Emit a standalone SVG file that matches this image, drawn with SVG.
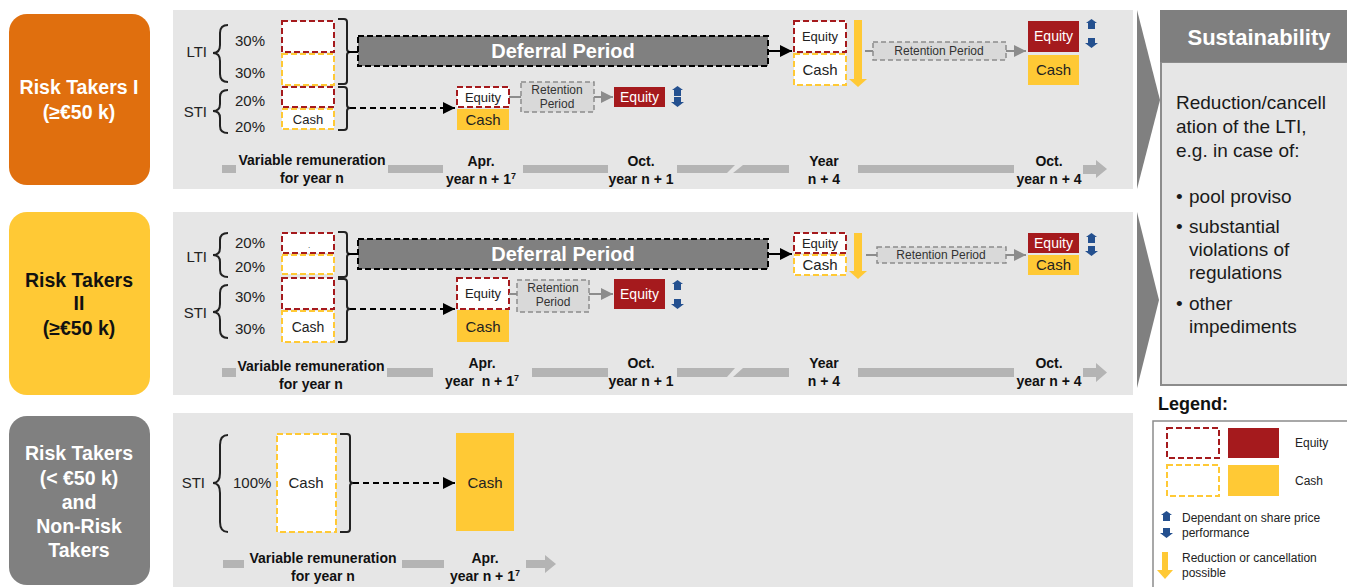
<svg xmlns="http://www.w3.org/2000/svg" xmlns:xlink="http://www.w3.org/1999/xlink" width="1347" height="587" viewBox="0 0 1347 587">
<style>
text{font-family:"Liberation Sans",Arial,sans-serif}
.panel{fill:#E6E6E6}
.dr{fill:#fff;stroke:#A51A1D;stroke-width:2;stroke-dasharray:6 3}
.dy{fill:#fff;stroke:#FFC935;stroke-width:2;stroke-dasharray:6 3}
.eq{fill:#A51A1D}
.ca{fill:#FFC935}
.ret{fill:#D9D9D9;stroke:#8C8C8C;stroke-width:1.5;stroke-dasharray:5 3}
.def{fill:#808080;stroke:#000;stroke-width:2;stroke-dasharray:6 3}
.br{fill:none;stroke:#222;stroke-width:2}
.tl{fill:#B4B4B4}
.blue{fill:#24508F}
.yel{fill:#FFC935}
.dash{stroke:#000;stroke-width:2;stroke-dasharray:6 4;fill:none}
.solidk{stroke:#000;stroke-width:2;fill:none}
.garr{stroke:#8C8C8C;stroke-width:2;fill:none}
.lbl{font-size:15px;fill:#222}
.tlt{font-size:14px;font-weight:bold;fill:#111;text-anchor:middle}
.sm{font-size:13px;fill:#222;text-anchor:middle}
.sm.c{font-size:15px}
.sm.w{fill:#fff;font-size:14px}
.rt{font-size:12px;fill:#333;text-anchor:middle}
.wt{fill:#fff}
.big{font-size:19.5px;font-weight:bold;text-anchor:middle}
.sus{font-size:19px;fill:#1a1a1a}
.leg{font-size:12px;fill:#222}
</style>
<defs>
<marker id="hk" viewBox="0 0 10 10" refX="10" refY="5" markerWidth="12" markerHeight="12" markerUnits="userSpaceOnUse" orient="auto"><path d="M0,0 L10,5 L0,10 Z" fill="#000"/></marker>
<marker id="hg" viewBox="0 0 10 10" refX="10" refY="5" markerWidth="12" markerHeight="12" markerUnits="userSpaceOnUse" orient="auto"><path d="M0,0 L10,5 L0,10 Z" fill="#8C8C8C"/></marker>
<path id="bup" class="blue" d="M6.5,0 L12,4 L10,4 L10,10 L3,10 L3,4 L1,4 Z"/>
<path id="bdn" class="blue" d="M3,0 H10 V5 H13 L6.5,10 L0,5 H3 Z"/>
</defs>

<!-- category boxes -->
<g id="rt1"><rect x="9" y="14" width="141" height="171" rx="18" fill="#E06F0E"/>
<text class="big wt" x="79" y="94">Risk Takers I</text><text class="big wt" x="79" y="119">(≥€50 k)</text></g>
<g id="rt2"><rect x="9" y="212" width="141" height="183" rx="18" fill="#FFC935"/>
<text class="big" fill="#111" x="79" y="287">Risk Takers</text><text class="big" fill="#111" x="79" y="310">II</text><text class="big" fill="#111" x="79" y="335">(≥€50 k)</text></g>
<g id="rt3"><rect x="9" y="416" width="141" height="169" rx="18" fill="#808080"/>
<text class="big wt" x="79" y="460">Risk Takers</text><text class="big wt" x="79" y="485">(&lt; €50 k)</text><text class="big wt" x="79" y="509">and</text><text class="big wt" x="79" y="533">Non-Risk</text><text class="big wt" x="79" y="557">Takers</text></g>

<!-- chevrons -->
<g id="chevrons"><polygon points="1137,10 1160,100 1137,189" fill="#808080"/><polygon points="1137,212 1159,300 1137,388" fill="#808080"/></g>

<!-- panels -->
<rect class="panel" x="173" y="10" width="960" height="179"/>
<rect class="panel" x="173" y="212" width="960" height="183"/>
<rect class="panel" x="173" y="413" width="960" height="174"/>

<!-- Row 1 -->
<g id="row1">
<text class="lbl" x="207" y="57" text-anchor="end">LTI</text>
<text class="lbl" x="207" y="117" text-anchor="end">STI</text>
<path class="br" d="M228,25 Q220,25 220,33 V45 Q220,53 213,53 Q220,53 220,61 V74 Q220,82 228,82"/>
<path class="br" d="M228,90 Q220,90 220,97 V104 Q220,111 213,111 Q220,111 220,118 V126 Q220,133 228,133"/>
<text class="lbl" x="235" y="46">30%</text><text class="lbl" x="235" y="78">30%</text>
<text class="lbl" x="235" y="106">20%</text><text class="lbl" x="235" y="132">20%</text>
<rect class="dr" x="282" y="21" width="52" height="31"/>
<rect class="dy" x="282" y="54" width="52" height="31"/>
<rect class="dr" x="282" y="87" width="52" height="20"/>
<rect class="dy" x="282" y="109" width="52" height="20"/>
<text class="sm" x="308" y="124">Cash</text>
<path class="br" d="M338,19 H344 Q347,19 347,22 V49 Q347,52 350,52 Q347,52 347,55 V81 Q347,84 344,84 H338"/>
<path class="br" d="M338,87 H344 Q347,87 347,90 V105 Q347,108 350,108 Q347,108 347,111 V127 Q347,130 344,130 H338"/>
<rect class="def" x="358" y="36" width="410" height="30"/>
<text x="563" y="58" font-size="20" font-weight="bold" fill="#fff" text-anchor="middle">Deferral Period</text>
<rect class="dr" x="457" y="87" width="52" height="20"/>
<text class="sm" x="483" y="102">Equity</text>
<rect class="ca" x="457" y="109" width="52" height="21"/>
<text class="sm c" x="483" y="125">Cash</text>
<rect class="ret" x="521" y="82" width="73" height="30"/>
<text class="rt" x="557" y="94">Retention</text><text class="rt" x="557" y="108">Period</text>
<rect class="eq" x="614" y="87" width="51" height="20"/>
<text class="sm w" x="639.5" y="102">Equity</text>
<use href="#bup" x="671" y="86"/><use href="#bdn" x="671" y="97"/>
<rect class="dr" x="794" y="21" width="52" height="31"/>
<text class="sm" x="820" y="41">Equity</text>
<rect class="dy" x="794" y="54" width="52" height="31"/>
<text class="sm c" x="820" y="75">Cash</text>
<rect class="yel" x="854" y="20" width="8" height="60"/><polygon class="yel" points="849,79 867,79 858,87"/>
<rect class="ret" x="873" y="42" width="133" height="18"/>
<text class="rt" x="939" y="55">Retention Period</text>
<rect class="eq" x="1028" y="21" width="51" height="31"/>
<text class="sm w" x="1053.5" y="41">Equity</text>
<rect class="ca" x="1028" y="55" width="51" height="30"/>
<text class="sm c" x="1053.5" y="75">Cash</text>
<use href="#bup" x="1085" y="19"/><use href="#bdn" x="1085" y="38"/>
<rect class="tl" x="222" y="165" width="14" height="8"/>
<rect class="tl" x="388" y="165" width="55" height="8"/>
<rect class="tl" x="523" y="165" width="85" height="8"/>
<polygon class="tl" points="677,165 735,165 727,173 677,173"/>
<polygon class="tl" points="743,165 789,165 789,173 733,173"/>
<rect class="tl" x="858" y="165" width="156" height="8"/>
<polygon class="tl" points="1083,165 1096,165 1096,160 1107,169 1096,178 1096,174 1083,174"/>
<text class="tlt" x="312" y="165">Variable remuneration</text><text class="tlt" x="312" y="183">for year n</text>
<text class="tlt" x="481" y="166">Apr.</text><text class="tlt" x="481" y="184">year n + 1<tspan font-size="9" dy="-5">7</tspan></text>
<text class="tlt" x="641" y="166">Oct.</text><text class="tlt" x="641" y="184">year n + 1</text>
<text class="tlt" x="824" y="166">Year</text><text class="tlt" x="824" y="184">n + 4</text>
<text class="tlt" x="1049" y="166">Oct.</text><text class="tlt" x="1049" y="184">year n + 4</text>
</g>

<!-- Row 2 -->
<g id="row2">
<text class="lbl" x="207" y="262" text-anchor="end">LTI</text>
<text class="lbl" x="207" y="318" text-anchor="end">STI</text>
<path class="br" d="M228,233 Q220,233 220,240 V248 Q220,255 213,255 Q220,255 220,262 V270 Q220,277 228,277"/>
<path class="br" d="M228,285 Q220,285 220,293 V304 Q220,312 213,312 Q220,312 220,320 V330 Q220,338 228,338"/>
<text class="lbl" x="235" y="248">20%</text><text class="lbl" x="235" y="272">20%</text>
<text class="lbl" x="235" y="302">30%</text><text class="lbl" x="235" y="334">30%</text>
<rect class="dr" x="282" y="233" width="52" height="20"/>
<text x="309" y="248" font-size="8" fill="#222" text-anchor="middle">.</text>
<rect class="dy" x="282" y="255" width="52" height="19"/>
<rect class="dr" x="282" y="278" width="52" height="31"/>
<rect class="dy" x="282" y="311" width="52" height="31"/>
<text class="sm" x="308" y="332" style="font-size:14px">Cash</text>
<path class="br" d="M338,232 H344 Q347,232 347,235 V251 Q347,254 350,254 Q347,254 347,257 V274 Q347,277 344,277 H338"/>
<path class="br" d="M338,279 H344 Q347,279 347,282 V306 Q347,309 350,309 Q347,309 347,312 V339 Q347,342 344,342 H338"/>
<rect class="def" x="358" y="239" width="410" height="30"/>
<text x="563" y="261" font-size="20" font-weight="bold" fill="#fff" text-anchor="middle">Deferral Period</text>
<rect class="dr" x="457" y="278" width="52" height="31"/>
<text class="sm" x="483" y="298">Equity</text>
<rect class="ca" x="457" y="310" width="52" height="32"/>
<text class="sm c" x="483" y="332">Cash</text>
<rect class="ret" x="517" y="280" width="72" height="32"/>
<text class="rt" x="553" y="292">Retention</text><text class="rt" x="553" y="306">Period</text>
<rect class="eq" x="614" y="279" width="51" height="30"/>
<text class="sm w" x="639.5" y="299">Equity</text>
<use href="#bup" x="671" y="280"/><use href="#bdn" x="671" y="299"/>
<rect class="dr" x="794" y="233" width="52" height="20"/>
<text class="sm" x="820" y="248">Equity</text>
<rect class="dy" x="794" y="255" width="52" height="20"/>
<text class="sm c" x="820" y="270">Cash</text>
<rect class="yel" x="854" y="233" width="8" height="39"/><polygon class="yel" points="849,271 867,271 858,279"/>
<rect class="ret" x="877" y="247" width="129" height="16"/>
<text class="rt" x="941" y="259">Retention Period</text>
<rect class="eq" x="1028" y="233" width="51" height="20"/>
<text class="sm w" x="1053.5" y="248">Equity</text>
<rect class="ca" x="1028" y="255" width="51" height="20"/>
<text class="sm c" x="1053.5" y="270">Cash</text>
<use href="#bup" x="1085" y="233"/><use href="#bdn" x="1085" y="246"/>
<rect class="tl" x="222" y="368" width="14" height="9"/>
<rect class="tl" x="387" y="368" width="46" height="9"/>
<rect class="tl" x="532" y="368" width="76" height="9"/>
<polygon class="tl" points="677,368 735,368 727,377 677,377"/>
<polygon class="tl" points="743,368 789,368 789,377 733,377"/>
<rect class="tl" x="858" y="368" width="156" height="9"/>
<polygon class="tl" points="1083,368 1096,368 1096,363 1107,372.5 1096,382 1096,377 1083,377"/>
<text class="tlt" x="311" y="371">Variable remuneration</text><text class="tlt" x="311" y="389">for year n</text>
<text class="tlt" x="482" y="368">Apr.</text><text class="tlt" x="482" y="386" xml:space="preserve">year  n + 1<tspan font-size="9" dy="-5">7</tspan></text>
<text class="tlt" x="641" y="368">Oct.</text><text class="tlt" x="641" y="386">year n + 1</text>
<text class="tlt" x="824" y="368">Year</text><text class="tlt" x="824" y="386">n + 4</text>
<text class="tlt" x="1049" y="368">Oct.</text><text class="tlt" x="1049" y="386">year n + 4</text>
</g>

<!-- Row 3 -->
<g id="row3">
<text class="lbl" x="205" y="488" text-anchor="end">STI</text>
<path class="br" d="M228,435 Q220,435 220,445 V473 Q220,483 213,483 Q220,483 220,493 V522 Q220,532 228,532"/>
<text class="lbl" x="233" y="488">100%</text>
<rect class="dy" x="277" y="434" width="59" height="98"/>
<text class="sm c" x="306" y="488">Cash</text>
<path class="br" d="M340,434 H347 Q350,434 350,437 V480 Q350,483 353,483 Q350,483 350,486 V529 Q350,532 347,532 H340"/>
<rect class="ca" x="456" y="433" width="58" height="98"/>
<text class="sm c" x="485" y="488">Cash</text>
<rect class="tl" x="223" y="560" width="21" height="8"/>
<rect class="tl" x="402" y="560" width="42" height="8"/>
<polygon class="tl" points="526,560 545,560 545,555 556,564 545,573 545,568 526,568"/>
<text class="tlt" x="323" y="563">Variable remuneration</text><text class="tlt" x="323" y="581">for year n</text>
<text class="tlt" x="485" y="563">Apr.</text><text class="tlt" x="485" y="581">year n + 1<tspan font-size="9" dy="-5">7</tspan></text>
</g>

<!-- connectors -->
<g id="connectors">
<line class="solidk" x1="348" y1="52" x2="358" y2="52"/>
<line class="dash" x1="350" y1="108" x2="455" y2="108" marker-end="url(#hk)"/>
<line class="solidk" x1="768" y1="51" x2="792" y2="51" marker-end="url(#hk)"/>
<line class="garr" x1="509" y1="97" x2="521" y2="97"/>
<line class="garr" x1="594" y1="97" x2="613" y2="97" marker-end="url(#hg)"/>
<line class="garr" x1="865" y1="51" x2="873" y2="51"/>
<line class="garr" x1="1006" y1="51" x2="1026" y2="51" marker-end="url(#hg)"/>

<line class="solidk" x1="348" y1="254" x2="358" y2="254"/>
<line class="dash" x1="350" y1="309" x2="455" y2="309" marker-end="url(#hk)"/>
<line class="solidk" x1="768" y1="254" x2="792" y2="254" marker-end="url(#hk)"/>
<line class="garr" x1="509" y1="294" x2="517" y2="294"/>
<line class="garr" x1="589" y1="294" x2="613" y2="294" marker-end="url(#hg)"/>
<line class="garr" x1="866" y1="255" x2="877" y2="255"/>
<line class="garr" x1="1006" y1="255" x2="1026" y2="255" marker-end="url(#hg)"/>

<line class="dash" x1="353" y1="483" x2="455" y2="483" marker-end="url(#hk)"/>
</g>

<!-- sustainability -->
<g id="sustainability">
<rect x="1161" y="62" width="190" height="323" fill="#E6E6E6" stroke="#8C8C8C" stroke-width="2"/>
<rect x="1160" y="10" width="190" height="52" fill="#7F7F7F"/>
<text x="1259" y="45" font-size="22" font-weight="bold" fill="#fff" text-anchor="middle">Sustainability</text>
<text class="sus" x="1176" y="109">Reduction/cancell</text>
<text class="sus" x="1176" y="133">ation of the LTI,</text>
<text class="sus" x="1176" y="157">e.g. in case of:</text>
<text class="sus" x="1176" y="203">•</text><text class="sus" x="1189" y="203">pool proviso</text>
<text class="sus" x="1176" y="233">•</text><text class="sus" x="1189" y="233">substantial</text>
<text class="sus" x="1189" y="256">violations of</text>
<text class="sus" x="1189" y="279">regulations</text>
<text class="sus" x="1176" y="310">•</text><text class="sus" x="1189" y="310">other</text>
<text class="sus" x="1189" y="333">impediments</text>
</g>

<!-- legend -->
<g id="legend">
<text x="1158" y="410" font-size="18" font-weight="bold" fill="#111">Legend:</text>
<rect x="1153" y="421" width="200" height="175" fill="#fff" stroke="#8C8C8C" stroke-width="1.5"/>
<rect class="dr" x="1167" y="428" width="52" height="30"/>
<rect class="eq" x="1228" y="428" width="51" height="30"/>
<text class="leg" x="1295" y="447">Equity</text>
<rect class="dy" x="1167" y="465" width="52" height="31"/>
<rect class="ca" x="1228" y="465" width="51" height="31"/>
<text class="leg" x="1295" y="485">Cash</text>
<use href="#bup" x="1160" y="511"/><use href="#bdn" x="1160" y="528"/>
<text class="leg" x="1182" y="522">Dependant on share price</text>
<text class="leg" x="1182" y="537">performance</text>
<rect class="yel" x="1162" y="552" width="6" height="19"/><polygon class="yel" points="1157,570 1173,570 1165,579"/>
<text class="leg" x="1182" y="562">Reduction or cancellation</text>
<text class="leg" x="1182" y="577">possible</text>
</g>
</svg>
